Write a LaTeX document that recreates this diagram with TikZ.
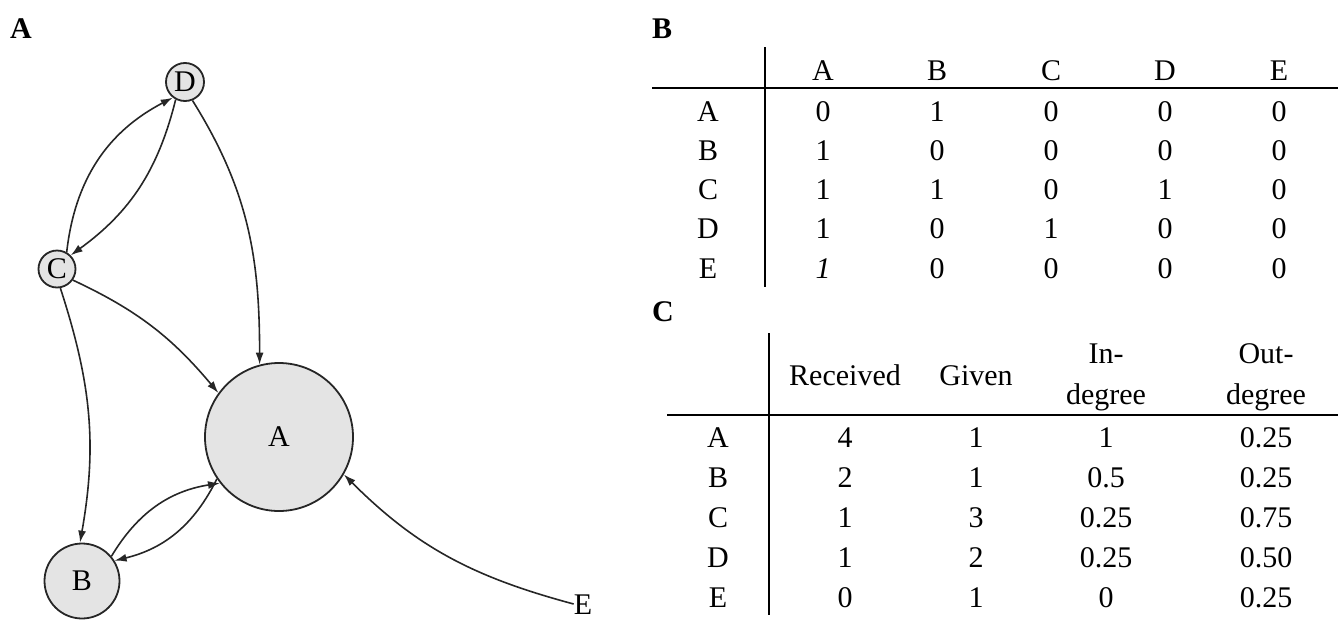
\documentclass[tikz,border=0pt]{standalone}
\usepackage{fontspec}
\setmainfont{Liberation Serif}
\usetikzlibrary{arrows.meta, positioning}
\definecolor{vgray}{RGB}{228,228,228}

\begin{document}
\begin{tikzpicture}[x=1pt, y=-1pt, font=\fontsize{30}{36}\selectfont,
    v/.style={circle, draw=black!85, line width=1.8pt, fill=vgray, inner sep=0pt},
    arr/.style={-{Latex[length=12pt, width=8pt]}, line width=1.6pt, black!85},
    cell/.style={inner sep=0pt, text height=20pt, text depth=0pt},
    panel/.style={cell, font=\fontsize{30}{36}\selectfont\bfseries},
    rule/.style={line width=1.4pt}
  ]
  \useasboundingbox (0,0) rectangle (1338,621);

  % panel A: the network
  \node[panel] (pa) at (21,28) {A};
  \node[v, minimum size=38pt] (D) at (185,82) {D};
  \node[v, minimum size=37pt] (C) at (57,269) {C};
  \node[v, minimum size=148pt] (A) at (279,437) {A};
  \node[v, minimum size=75pt] (B) at (82,581) {B};
  \node[cell] (E) at (583,604) {E};

  \draw[arr] (C.60) to[bend left=28] (D.-128);
  \draw[arr] (D.-118) to[bend left=20] (C.45);
  \draw[arr] (D.-68) to[out=-58, in=90] (A.105);
  \draw[arr] (C.-35) to[out=-25, in=130] (A.144);
  \draw[arr] (C.-80) to[out=-72, in=80] (B.93);
  \draw[arr] (B.40) to[bend left=25] (A.-142);
  \draw[arr] (A.-146) to[bend left=25] (B.32);
  \draw[arr] (E.west) to[out=165, in=-45] (A.-30);

  % panel B: adjacency matrix
  \node[panel] (pb) at (662,28) {B};
  \draw[rule] (765,47) -- (765,287);
  \draw[rule] (652,88) -- (1338,88);
  \foreach \n [count=\i] in {A,B,C,D,E}
    \node[cell] (bh\i) at ({823+114*(\i-1)},70) {\n};
  \foreach \n/\row [count=\j] in {A/{0,1,0,0,0}, B/{1,0,0,0,0}, C/{1,1,0,1,0},
                                  D/{1,0,1,0,0}, E/{\textit{1},0,0,0,0}} {
    \node[cell] (br\j) at (708,{111+39.25*(\j-1)}) {\n};
    \foreach \val [count=\i] in \row
      \node[cell] (b\j-\i) at ({823+114*(\i-1)},{111+39.25*(\j-1)}) {\val};
  }

  % panel C: scores
  \node[panel] (pc) at (663,311) {C};
  \draw[rule] (769,333) -- (769,615);
  \draw[rule] (667,415) -- (1338,415);
  \node[cell] (ch1) at (845,375) {Received};
  \node[cell] (ch2) at (976,375) {Given};
  \node[align=center, inner sep=0pt, font=\fontsize{30}{41}\selectfont] (ch3) at (1106,377) {In-\\degree};
  \node[align=center, inner sep=0pt, font=\fontsize{30}{41}\selectfont] (ch4) at (1266,377) {Out-\\degree};
  \foreach \n/\row [count=\j] in {A/{4,1,1,0.25}, B/{2,1,0.5,0.25}, C/{1,3,0.25,0.75},
                                  D/{1,2,0.25,0.50}, E/{0,1,0,0.25}} {
    \node[cell] (cr\j) at (718,{437+40*(\j-1)}) {\n};
    \foreach \val [count=\i] in \row {
      \pgfmathsetmacro{\cx}{{845,976,1106,1266}[\i-1]}
      \node[cell] (c\j-\i) at (\cx,{437+40*(\j-1)}) {\val};
    }
  }
\end{tikzpicture}
\end{document}
